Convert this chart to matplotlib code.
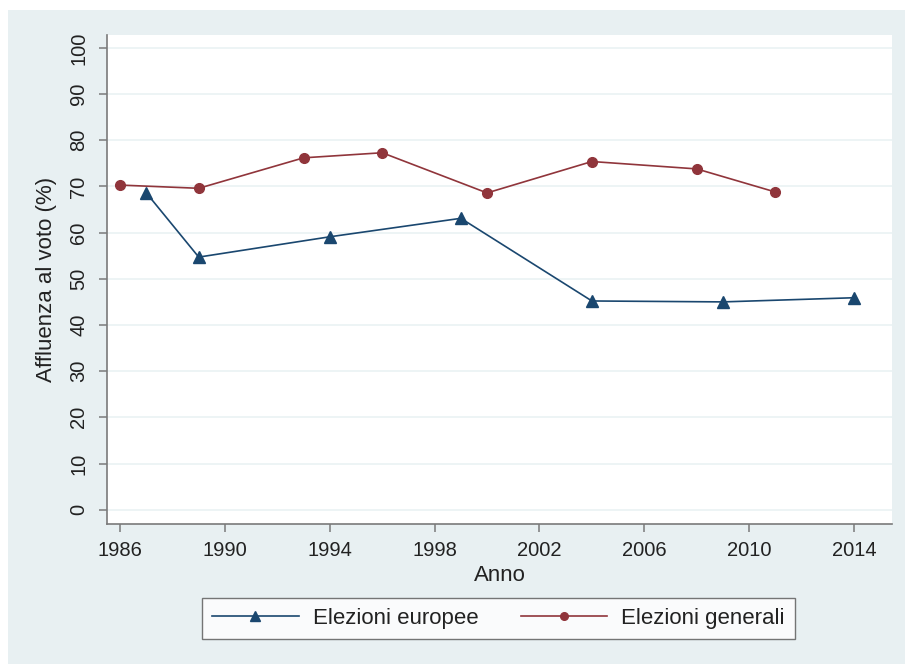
import matplotlib
matplotlib.use("Agg")
import matplotlib.pyplot as plt
from matplotlib.patches import Rectangle

plt.rcParams['font.family'] = ['Liberation Sans', 'DejaVu Sans']

years_eu = [1987, 1989, 1994, 1999, 2004, 2009, 2014]
turnout_eu = [68.6, 54.7, 59.1, 63.1, 45.2, 45.0, 45.9]
years_gen = [1986, 1989, 1993, 1996, 2000, 2004, 2008, 2011]
turnout_gen = [70.3, 69.6, 76.2, 77.3, 68.6, 75.4, 73.8, 68.8]
xticks = [1986, 1990, 1994, 1998, 2002, 2006, 2010, 2014]
yticks = [0, 10, 20, 30, 40, 50, 60, 70, 80, 90, 100]
labels = ["Elezioni europee", "Elezioni generali"]

W, H = 905, 664
BG = '#e8f0f2'
BLUE = '#1a476f'
RED = '#90353b'

fig = plt.figure(figsize=(W / 100, H / 100), dpi=100, facecolor='white')
fig.patches.append(Rectangle((8 / W, 0), 1 - 8 / W, 1 - 10 / H, transform=fig.transFigure,
                             facecolor=BG, edgecolor='none', zorder=-10))

ax = fig.add_axes([107 / W, 1 - 524 / H, (892 - 107) / W, (524 - 35) / H])
ax.set_facecolor('white')

ax.plot(years_eu, turnout_eu, color=BLUE, lw=1.2, marker='^', ms=9, label=labels[0], zorder=3)
ax.plot(years_gen, turnout_gen, color=RED, lw=1.2, marker='o', ms=7, label=labels[1], zorder=3)

ax.set_xlim(1985.5, 2015.45)
ax.set_ylim(-3.1, 102.8)
ax.set_xticks(xticks)
ax.set_yticks(yticks)
ax.set_yticklabels([str(v) for v in yticks], rotation=90, va='center')
ax.grid(axis='y', color='#eaf2f3', lw=1.2, zorder=0)
ax.set_axisbelow(True)

for s in ['top', 'right']:
    ax.spines[s].set_visible(False)
for s in ['left', 'bottom']:
    ax.spines[s].set_color('#7a7a7a')
    ax.spines[s].set_linewidth(1.2)

ax.tick_params(axis='both', colors='#7a7a7a', labelcolor='#222222', length=6, width=1.1, labelsize=14.5)
ax.tick_params(axis='y', pad=7.5)
ax.tick_params(axis='x', pad=6)

ax.set_ylabel("Affluenza al voto (%)", fontsize=16, color='#222222', labelpad=9)
ax.set_xlabel("Anno", fontsize=16, color='#222222', labelpad=4)

leg = fig.legend(loc='center', bbox_to_anchor=((200 + 797) / 2 / W, 1 - 618.5 / H),
                 ncol=2, fontsize=16, frameon=True, fancybox=False, edgecolor='#555555',
                 handlelength=3.9, columnspacing=1.9, borderpad=0.45,
                 handletextpad=0.63)
leg.get_frame().set_linewidth(1.0)
for t in leg.get_texts():
    t.set_color('#222222')
for h, ms in zip(leg.legend_handles, [7, 5.5]):
    h.set_markersize(ms)

fig.savefig('out.png', dpi=100, facecolor=fig.get_facecolor())
